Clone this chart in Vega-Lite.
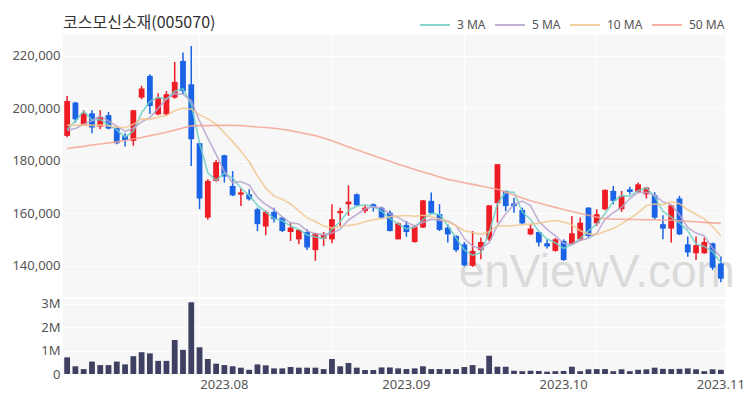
{
"$schema": "https://vega.github.io/schema/vega-lite/v6.json",
"padding": {"left": 11, "top": 9, "right": 5, "bottom": 0},
"background": "white",
"spacing": 0,
"config": {
  "view": {"stroke": null, "fill": "#f7f7f7"},
  "font": "Noto Sans",
  "axis": {"labelFont": "Noto Sans", "labelFontSize": 13, "labelColor": "#555555", "domain": false, "ticks": false, "gridColor": "#ffffff", "gridWidth": 1, "title": null}
},
"datasets": {"d": [
{"date":"2023-07-05","open":189500,"high":204700,"low":189000,"close":202800,"vol":710000,"3 MA":191900,"5 MA":191600,"10 MA":193500,"50 MA":184700},
{"date":"2023-07-06","open":202200,"high":202500,"low":194600,"close":195800,"vol":330000,"3 MA":195200,"5 MA":192300,"10 MA":193600,"50 MA":185100},
{"date":"2023-07-07","open":193500,"high":199300,"low":193300,"close":198100,"vol":210000,"3 MA":198900,"5 MA":193900,"10 MA":193700,"50 MA":185500},
{"date":"2023-07-10","open":198100,"high":199300,"low":190500,"close":192700,"vol":530000,"3 MA":195500,"5 MA":195300,"10 MA":193500,"50 MA":186000},
{"date":"2023-07-11","open":193000,"high":199300,"low":192000,"close":196500,"vol":380000,"3 MA":195800,"5 MA":197200,"10 MA":193600,"50 MA":186400},
{"date":"2023-07-12","open":197400,"high":198600,"low":192000,"close":192300,"vol":380000,"3 MA":193800,"5 MA":195100,"10 MA":193300,"50 MA":186800},
{"date":"2023-07-13","open":192600,"high":192900,"low":186300,"close":186700,"vol":530000,"3 MA":191800,"5 MA":193300,"10 MA":192800,"50 MA":187200},
{"date":"2023-07-14","open":189500,"high":190500,"low":185400,"close":187900,"vol":410000,"3 MA":189000,"5 MA":191200,"10 MA":192600,"50 MA":187700},
{"date":"2023-07-17","open":187600,"high":199300,"low":185700,"close":199300,"vol":760000,"3 MA":191300,"5 MA":192500,"10 MA":193900,"50 MA":188300},
{"date":"2023-07-18","open":204100,"high":208600,"low":203500,"close":207600,"vol":930000,"3 MA":198300,"5 MA":194800,"10 MA":196000,"50 MA":188900},
{"date":"2023-07-19","open":212400,"high":213000,"low":197800,"close":200900,"vol":880000,"3 MA":202600,"5 MA":196500,"10 MA":195800,"50 MA":189600},
{"date":"2023-07-20","open":197700,"high":205800,"low":197400,"close":204100,"vol":560000,"3 MA":204200,"5 MA":200000,"10 MA":196600,"50 MA":190200},
{"date":"2023-07-21","open":197700,"high":206600,"low":197100,"close":205400,"vol":560000,"3 MA":203500,"5 MA":203500,"10 MA":197300,"50 MA":190900},
{"date":"2023-07-24","open":204100,"high":217700,"low":203700,"close":210100,"vol":1450000,"3 MA":206500,"5 MA":205600,"10 MA":199100,"50 MA":191700},
{"date":"2023-07-25","open":218100,"high":221300,"low":205400,"close":206600,"vol":1030000,"3 MA":207400,"5 MA":205400,"10 MA":200100,"50 MA":192500},
{"date":"2023-07-26","open":209200,"high":223800,"low":178000,"close":188200,"vol":3060000,"3 MA":201600,"5 MA":202900,"10 MA":199700,"50 MA":193300},
{"date":"2023-07-27","open":186700,"high":186900,"low":161500,"close":165600,"vol":1140000,"3 MA":186800,"5 MA":195200,"10 MA":197600,"50 MA":193400},
{"date":"2023-07-28","open":158300,"high":172900,"low":157500,"close":172300,"vol":640000,"3 MA":175400,"5 MA":188600,"10 MA":196000,"50 MA":193400},
{"date":"2023-07-31","open":172300,"high":180300,"low":172000,"close":179500,"vol":440000,"3 MA":172500,"5 MA":182400,"10 MA":194000,"50 MA":193500},
{"date":"2023-08-01","open":182100,"high":182300,"low":171700,"close":174000,"vol":380000,"3 MA":175300,"5 MA":175900,"10 MA":190700,"50 MA":193500},
{"date":"2023-08-02","open":170400,"high":176100,"low":166500,"close":166800,"vol":330000,"3 MA":173400,"5 MA":171600,"10 MA":187300,"50 MA":193500},
{"date":"2023-08-03","open":167100,"high":169400,"low":162700,"close":167900,"vol":270000,"3 MA":169600,"5 MA":172100,"10 MA":183600,"50 MA":193400},
{"date":"2023-08-04","open":167200,"high":169100,"low":164800,"close":165300,"vol":180000,"3 MA":166700,"5 MA":170700,"10 MA":179600,"50 MA":193200},
{"date":"2023-08-07","open":161500,"high":162100,"low":153200,"close":155800,"vol":410000,"3 MA":163000,"5 MA":166000,"10 MA":174200,"50 MA":192900},
{"date":"2023-08-08","open":154900,"high":161100,"low":151600,"close":160500,"vol":370000,"3 MA":160500,"5 MA":163300,"10 MA":169600,"50 MA":192700},
{"date":"2023-08-09","open":160500,"high":162100,"low":156400,"close":157700,"vol":240000,"3 MA":158000,"5 MA":161400,"10 MA":166500,"50 MA":192400},
{"date":"2023-08-10","open":158300,"high":158700,"low":152800,"close":153200,"vol":240000,"3 MA":157100,"5 MA":158500,"10 MA":165300,"50 MA":192000},
{"date":"2023-08-11","open":152800,"high":156400,"low":149400,"close":154500,"vol":300000,"3 MA":155100,"5 MA":156300,"10 MA":163500,"50 MA":191500},
{"date":"2023-08-14","open":150000,"high":154000,"low":148100,"close":153600,"vol":270000,"3 MA":153800,"5 MA":155900,"10 MA":160900,"50 MA":190900},
{"date":"2023-08-16","open":152800,"high":153900,"low":145900,"close":146900,"vol":270000,"3 MA":151700,"5 MA":153200,"10 MA":158200,"50 MA":190200},
{"date":"2023-08-17","open":145900,"high":152500,"low":141800,"close":152300,"vol":270000,"3 MA":150900,"5 MA":152100,"10 MA":156800,"50 MA":189600},
{"date":"2023-08-18","open":150300,"high":152800,"low":147500,"close":151600,"vol":210000,"3 MA":150300,"5 MA":151800,"10 MA":155100,"50 MA":188700},
{"date":"2023-08-21","open":150000,"high":163400,"low":148500,"close":157700,"vol":640000,"3 MA":153900,"5 MA":152400,"10 MA":154400,"50 MA":187600},
{"date":"2023-08-22","open":160000,"high":162100,"low":155100,"close":160800,"vol":330000,"3 MA":156700,"5 MA":153900,"10 MA":154900,"50 MA":186500},
{"date":"2023-08-23","open":163400,"high":170600,"low":159000,"close":164400,"vol":470000,"3 MA":161000,"5 MA":157400,"10 MA":155300,"50 MA":185300},
{"date":"2023-08-24","open":167200,"high":167500,"low":162700,"close":163000,"vol":270000,"3 MA":162700,"5 MA":159500,"10 MA":155800,"50 MA":184200},
{"date":"2023-08-25","open":160800,"high":163000,"low":160000,"close":162100,"vol":170000,"3 MA":163200,"5 MA":161600,"10 MA":156700,"50 MA":183100},
{"date":"2023-08-28","open":163400,"high":163700,"low":160600,"close":162100,"vol":170000,"3 MA":162400,"5 MA":162500,"10 MA":157500,"50 MA":182000},
{"date":"2023-08-29","open":162100,"high":162500,"low":158000,"close":158300,"vol":280000,"3 MA":160800,"5 MA":162000,"10 MA":157900,"50 MA":180900},
{"date":"2023-08-30","open":160200,"high":161000,"low":153000,"close":153200,"vol":280000,"3 MA":157900,"5 MA":159700,"10 MA":158600,"50 MA":179800},
{"date":"2023-08-31","open":150000,"high":156400,"low":150000,"close":156100,"vol":240000,"3 MA":155900,"5 MA":158400,"10 MA":158900,"50 MA":178700},
{"date":"2023-09-01","open":155500,"high":157000,"low":151000,"close":152800,"vol":210000,"3 MA":154000,"5 MA":156500,"10 MA":159100,"50 MA":177700},
{"date":"2023-09-04","open":149000,"high":155500,"low":148700,"close":154900,"vol":240000,"3 MA":154600,"5 MA":155100,"10 MA":158800,"50 MA":176700},
{"date":"2023-09-05","open":154500,"high":165000,"low":154300,"close":164900,"vol":330000,"3 MA":157500,"5 MA":156400,"10 MA":159200,"50 MA":175700},
{"date":"2023-09-06","open":164700,"high":167900,"low":159600,"close":160000,"vol":210000,"3 MA":159900,"5 MA":157700,"10 MA":158700,"50 MA":174800},
{"date":"2023-09-07","open":159600,"high":163400,"low":153200,"close":153600,"vol":210000,"3 MA":159500,"5 MA":157200,"10 MA":157800,"50 MA":173800},
{"date":"2023-09-08","open":154500,"high":155800,"low":148800,"close":151900,"vol":210000,"3 MA":155200,"5 MA":157100,"10 MA":156800,"50 MA":172900},
{"date":"2023-09-11","open":151300,"high":151600,"low":145200,"close":145900,"vol":210000,"3 MA":150500,"5 MA":155300,"10 MA":155200,"50 MA":172300},
{"date":"2023-09-12","open":148100,"high":149000,"low":139700,"close":140100,"vol":300000,"3 MA":146000,"5 MA":150300,"10 MA":153300,"50 MA":171600},
{"date":"2023-09-13","open":139900,"high":153200,"low":139500,"close":145600,"vol":380000,"3 MA":143900,"5 MA":147400,"10 MA":152600,"50 MA":171000},
{"date":"2023-09-14","open":145900,"high":150700,"low":142400,"close":149000,"vol":240000,"3 MA":144900,"5 MA":146500,"10 MA":151900,"50 MA":170400},
{"date":"2023-09-15","open":150000,"high":163000,"low":149400,"close":163000,"vol":780000,"3 MA":152500,"5 MA":148700,"10 MA":152900,"50 MA":169700},
{"date":"2023-09-18","open":163800,"high":178700,"low":156400,"close":178700,"vol":310000,"3 MA":163600,"5 MA":155300,"10 MA":155300,"50 MA":169100},
{"date":"2023-09-19","open":168500,"high":168600,"low":160800,"close":162700,"vol":310000,"3 MA":168100,"5 MA":159800,"10 MA":155100,"50 MA":168000},
{"date":"2023-09-20","open":163700,"high":165900,"low":160200,"close":162700,"vol":140000,"3 MA":168000,"5 MA":163200,"10 MA":155300,"50 MA":166900},
{"date":"2023-09-21","open":161200,"high":162100,"low":155800,"close":156100,"vol":120000,"3 MA":160500,"5 MA":164600,"10 MA":155600,"50 MA":165800},
{"date":"2023-09-22","open":151900,"high":155800,"low":151600,"close":154100,"vol":140000,"3 MA":157600,"5 MA":162900,"10 MA":155800,"50 MA":164700},
{"date":"2023-09-25","open":152800,"high":153000,"low":147300,"close":148800,"vol":130000,"3 MA":153000,"5 MA":156900,"10 MA":156100,"50 MA":163900},
{"date":"2023-09-26","open":148500,"high":150000,"low":146500,"close":147300,"vol":100000,"3 MA":150100,"5 MA":153800,"10 MA":156800,"50 MA":163000},
{"date":"2023-09-27","open":145600,"high":150500,"low":145300,"close":150000,"vol":120000,"3 MA":148700,"5 MA":151300,"10 MA":157200,"50 MA":162200},
{"date":"2023-10-04","open":149400,"high":150000,"low":141800,"close":142100,"vol":130000,"3 MA":146500,"5 MA":148500,"10 MA":156600,"50 MA":161400},
{"date":"2023-10-05","open":148100,"high":158900,"low":147800,"close":152300,"vol":310000,"3 MA":148100,"5 MA":148100,"10 MA":155500,"50 MA":160600},
{"date":"2023-10-06","open":150000,"high":158300,"low":149400,"close":156400,"vol":120000,"3 MA":150300,"5 MA":149600,"10 MA":153300,"50 MA":159900},
{"date":"2023-10-10","open":162100,"high":162300,"low":150700,"close":151300,"vol":200000,"3 MA":153300,"5 MA":150400,"10 MA":152100,"50 MA":159200},
{"date":"2023-10-11","open":156100,"high":161500,"low":155100,"close":159600,"vol":210000,"3 MA":155800,"5 MA":152300,"10 MA":151800,"50 MA":158500},
{"date":"2023-10-12","open":161500,"high":169000,"low":161100,"close":168900,"vol":210000,"3 MA":159900,"5 MA":157700,"10 MA":153100,"50 MA":157900},
{"date":"2023-10-13","open":168500,"high":170400,"low":163400,"close":164700,"vol":120000,"3 MA":164400,"5 MA":160200,"10 MA":154100,"50 MA":157700},
{"date":"2023-10-16","open":161500,"high":168500,"low":160500,"close":166600,"vol":200000,"3 MA":166700,"5 MA":162200,"10 MA":155900,"50 MA":157700},
{"date":"2023-10-17","open":169100,"high":170100,"low":167200,"close":168100,"vol":120000,"3 MA":166500,"5 MA":165600,"10 MA":158000,"50 MA":157600},
{"date":"2023-10-18","open":168100,"high":171700,"low":167600,"close":171000,"vol":180000,"3 MA":168600,"5 MA":167900,"10 MA":160100,"50 MA":157600},
{"date":"2023-10-19","open":167200,"high":170000,"low":165600,"close":169800,"vol":200000,"3 MA":169600,"5 MA":168000,"10 MA":162900,"50 MA":157500},
{"date":"2023-10-20","open":166800,"high":168000,"low":157700,"close":158300,"vol":270000,"3 MA":166400,"5 MA":166800,"10 MA":163500,"50 MA":157500},
{"date":"2023-10-23","open":155800,"high":159200,"low":150000,"close":154100,"vol":220000,"3 MA":160700,"5 MA":164300,"10 MA":163200,"50 MA":157400},
{"date":"2023-10-24","open":154100,"high":163000,"low":148800,"close":163000,"vol":210000,"3 MA":158500,"5 MA":163200,"10 MA":164400,"50 MA":157300},
{"date":"2023-10-25","open":165600,"high":166600,"low":151600,"close":151900,"vol":220000,"3 MA":156300,"5 MA":159400,"10 MA":163600,"50 MA":157100},
{"date":"2023-10-26","open":148100,"high":151100,"low":143400,"close":145000,"vol":240000,"3 MA":153300,"5 MA":154500,"10 MA":161300,"50 MA":156900},
{"date":"2023-10-27","open":144700,"high":151100,"low":142100,"close":147800,"vol":200000,"3 MA":148200,"5 MA":152400,"10 MA":159600,"50 MA":156700},
{"date":"2023-10-30","open":144700,"high":150700,"low":144500,"close":149000,"vol":120000,"3 MA":147300,"5 MA":151300,"10 MA":157800,"50 MA":156500},
{"date":"2023-10-31","open":148500,"high":148700,"low":138300,"close":139200,"vol":200000,"3 MA":145300,"5 MA":146600,"10 MA":154900,"50 MA":156300},
{"date":"2023-11-01","open":140800,"high":143600,"low":133600,"close":135000,"vol":180000,"3 MA":141100,"5 MA":143200,"10 MA":151300,"50 MA":156100}
]},
"vconcat": [
{
  "width": 662,
  "height": 262,
  "title": {"text": "코스모신소재(005070)", "anchor": "start", "frame": "group", "font": "Noto Sans CJK KR", "fontSize": 16, "fontWeight": "normal", "color": "#333333", "offset": 2, "dy": -2},
  "data": {"name": "d"},
  "encoding": {
    "x": {"field": "date", "type": "ordinal", "scale": {"paddingInner": 0.3, "paddingOuter": 0.15},
          "axis": {"labels": false, "grid": true, "bandPosition": 0.5, "maxExtent": 0, "values": ["2023-07-27","2023-08-21","2023-09-12","2023-10-11"]}}
  },
  "layer": [
    {
      "data": {"values": [{"label": "enViewV.com"}]},
      "mark": {"type": "text", "font": "Liberation Sans", "fontSize": 46, "color": "#cfcfcf", "opacity": 0.7, "align": "center", "baseline": "alphabetic"},
      "encoding": {
        "x": {"datum": "2023-10-11"},
        "y": {"datum": 132000, "type": "quantitative", "scale": {"domain": [128000, 228000], "nice": false, "zero": false},
              "axis": {"values": [140000,160000,180000,200000,220000], "labelExpr": "format(datum.value, ',')", "grid": true, "minExtent": 50, "maxExtent": 50, "labelPadding": 3}},
        "text": {"field": "label"}
      }
    },
    {
      "mark": {"type": "rule", "strokeWidth": 1.5},
      "encoding": {
        "y": {"field": "low", "type": "quantitative", "scale": {"domain": [128000, 228000], "nice": false, "zero": false},
              "axis": {"values": [140000,160000,180000,200000,220000], "labelExpr": "format(datum.value, ',')", "grid": true, "minExtent": 50, "maxExtent": 50, "labelPadding": 3}},
        "y2": {"field": "high"},
        "color": {"condition": {"test": "datum.close >= datum.open", "value": "#ee1c25"}, "value": "#1a62e6"}
      }
    },
    {
      "mark": {"type": "bar"},
      "encoding": {
        "y": {"field": "open", "type": "quantitative", "scale": {"domain": [128000, 228000], "nice": false, "zero": false}},
        "y2": {"field": "close"},
        "color": {"condition": {"test": "datum.close >= datum.open", "value": "#ee1c25"}, "value": "#1a62e6"}
      }
    },
    {
      "transform": [{"fold": ["3 MA", "5 MA", "10 MA", "50 MA"], "as": ["ma", "value"]}],
      "mark": {"type": "line", "strokeWidth": 1.6, "opacity": 0.85},
      "encoding": {
        "y": {"field": "value", "type": "quantitative", "scale": {"domain": [128000, 228000], "nice": false, "zero": false}},
        "color": {"field": "ma", "type": "nominal",
                  "scale": {"domain": ["3 MA", "5 MA", "10 MA", "50 MA"], "range": ["#6fd0c5", "#b7a3cf", "#f1c78f", "#f4a595"]},
                  "legend": {"orient": "none", "legendX": 356, "legendY": -26, "direction": "horizontal", "title": null,
                             "symbolType": "stroke", "symbolSize": 900, "symbolStrokeWidth": 2,
                             "labelFont": "Noto Sans", "labelFontSize": 12, "labelColor": "#555555", "labelOffset": 6, "columnPadding": 5}}
      }
    }
  ]
},
{
  "width": 662,
  "height": 75,
  "data": {"name": "d"},
  "mark": {"type": "bar", "color": "#3f4163"},
  "encoding": {
    "x": {"field": "date", "type": "ordinal", "scale": {"paddingInner": 0.3, "paddingOuter": 0.15},
          "axis": {"values": ["2023-07-27","2023-08-01","2023-08-21","2023-09-01","2023-09-12","2023-10-04","2023-10-11","2023-11-01"],
                   "labelExpr": "indexof(['2023-08-01','2023-09-01','2023-10-04','2023-11-01'], datum.value) >= 0 ? replace(substring(datum.value, 0, 7), '-', '.') : ''",
                   "grid": true, "bandPosition": 0.5, "labelAngle": 0, "labelOverlap": false, "labelPadding": 4,
                   "gridOpacity": {"condition": {"test": "indexof(['2023-07-27','2023-08-21','2023-09-12','2023-10-11'], datum.value) >= 0", "value": 1}, "value": 0}}},
    "y": {"field": "vol", "type": "quantitative", "scale": {"domain": [0, 3200000], "nice": false},
          "axis": {"values": [0, 1000000, 2000000, 3000000], "labelExpr": "format(datum.value, '~s')", "grid": true, "minExtent": 50, "maxExtent": 50, "labelPadding": 3}}
  }
}
]
}
